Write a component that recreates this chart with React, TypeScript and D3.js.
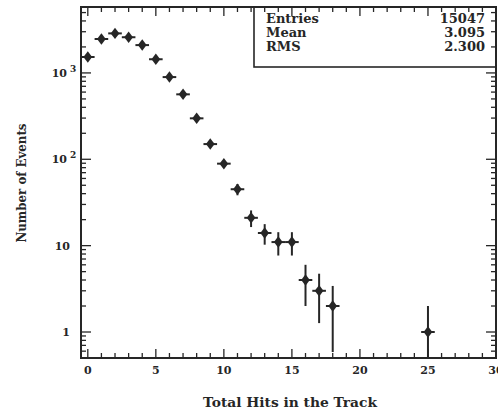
import React, { useEffect, useRef } from 'react';
import * as d3 from 'd3';

// bin centres (hits) and counts
const hits = [0, 1, 2, 3, 4, 5, 6, 7, 8, 9, 10, 11, 12, 13, 14, 15, 16, 17, 18, 25];
const counts = [1530, 2470, 2870, 2590, 2100, 1440, 895, 565, 298, 150, 89, 45, 21, 14, 11, 11, 4, 3, 2, 1];

const xTickLabels = [0, 5, 10, 15, 20, 25, 30];
const yTickLabels = [
  { v: 1, base: '1', exp: '' },
  { v: 10, base: '10', exp: '' },
  { v: 100, base: '10', exp: '2' },
  { v: 1000, base: '10', exp: '3' },
];

const statNames = ['Entries', 'Mean', 'RMS'];
const statValues = ['15047', '3.095', '2.300'];

const W = 498;
const H = 412;
const margin = { top: 7, right: 2, bottom: 54, left: 81 };
const ink = '#262626';
const font = '"DejaVu Serif", "Liberation Serif", serif';

export default function App() {
  const ref = useRef<SVGSVGElement>(null);

  useEffect(() => {
    if (!ref.current) return;
    const svg = d3.select(ref.current);
    svg.selectAll('*').remove();

    const x0 = margin.left, x1 = W - margin.right;
    const y0 = H - margin.bottom, y1 = margin.top;

    const x = d3.scaleLinear().domain([-0.5, 30]).range([x0, x1]);
    const y = d3.scaleLog().domain([0.5, 5800]).range([y0, y1]);

    svg.append('defs').append('clipPath').attr('id', 'plotclip')
      .append('rect').attr('x', x0).attr('y', y1).attr('width', x1 - x0).attr('height', y0 - y1);

    const g = svg.append('g');

    // x ticks (bottom and top, pointing inward)
    d3.range(0, 31).forEach(v => {
      const major = v % 5 === 0;
      const len = major ? 9 : 5;
      g.append('line').attr('x1', x(v)).attr('x2', x(v)).attr('y1', y0).attr('y2', y0 - len)
        .attr('stroke', ink).attr('stroke-width', 1.3);
      g.append('line').attr('x1', x(v)).attr('x2', x(v)).attr('y1', y1).attr('y2', y1 + len)
        .attr('stroke', ink).attr('stroke-width', 1.3);
    });

    // y ticks (log, left and right)
    const yTicks: { v: number; major: boolean }[] = [];
    for (let e = -1; e <= 3; e++) {
      for (let m = 1; m <= 9; m++) {
        const v = m * Math.pow(10, e);
        if (v >= 0.5 && v <= 5800) yTicks.push({ v, major: m === 1 });
      }
    }
    yTicks.forEach(t => {
      const len = t.major ? 10 : 5;
      g.append('line').attr('x1', x0).attr('x2', x0 + len).attr('y1', y(t.v)).attr('y2', y(t.v))
        .attr('stroke', ink).attr('stroke-width', 1.3);
      g.append('line').attr('x1', x1).attr('x2', x1 - len).attr('y1', y(t.v)).attr('y2', y(t.v))
        .attr('stroke', ink).attr('stroke-width', 1.3);
    });

    // frame
    g.append('rect').attr('x', x0).attr('y', y1).attr('width', x1 - x0).attr('height', y0 - y1)
      .attr('fill', 'none').attr('stroke', ink).attr('stroke-width', 2);

    // x tick labels
    g.selectAll('text.xl').data(xTickLabels).enter().append('text')
      .attr('x', d => x(d)).attr('y', y0 + 16)
      .attr('text-anchor', 'middle').attr('font-family', font).attr('font-weight', 'bold')
      .attr('font-size', 11).attr('fill', ink).text(d => d);

    // y tick labels
    yTickLabels.forEach(t => {
      g.append('text').attr('x', t.exp ? 67 : 70).attr('y', y(t.v) + 4)
        .attr('text-anchor', 'end').attr('font-family', font).attr('font-weight', 'bold')
        .attr('font-size', 11).attr('fill', ink).text(t.base);
      if (t.exp) {
        g.append('text').attr('x', 70).attr('y', y(t.v) - 1)
          .attr('font-family', font).attr('font-weight', 'bold')
          .attr('font-size', 9).attr('fill', ink).text(t.exp);
      }
    });

    // data points with error bars
    const pts = g.append('g').attr('clip-path', 'url(#plotclip)');
    hits.forEach((h, i) => {
      const n = counts[i];
      const err = Math.sqrt(n);
      const lo = Math.max(n - err, 0.3);
      const cx = x(h), cy = y(n);
      pts.append('line').attr('x1', cx).attr('x2', cx).attr('y1', y(n + err)).attr('y2', y(lo))
        .attr('stroke', ink).attr('stroke-width', 2);
      pts.append('line').attr('x1', x(h - 0.5)).attr('x2', x(h + 0.5)).attr('y1', cy).attr('y2', cy)
        .attr('stroke', ink).attr('stroke-width', 2);
      pts.append('path').attr('transform', `translate(${cx},${cy}) scale(1.25,0.95)`)
        .attr('d', d3.symbol().type(d3.symbolDiamond).size(42)())
        .attr('fill', ink);
    });

    // stats box
    const bx = 254;
    const by = y1;
    const bh = 60;
    g.append('rect').attr('x', bx).attr('y', by).attr('width', x1 - bx).attr('height', bh)
      .attr('fill', 'none').attr('stroke', ink).attr('stroke-width', 1.6);
    statNames.forEach((s, i) => {
      g.append('text').attr('x', bx + 12).attr('y', by + 16 + i * 14)
        .attr('font-family', font).attr('font-weight', 'bold').attr('font-size', 13)
        .attr('fill', ink).text(s);
      g.append('text').attr('x', x1 - 11).attr('y', by + 16 + i * 14)
        .attr('text-anchor', 'end').attr('font-family', font).attr('font-weight', 'bold')
        .attr('font-size', 13).attr('fill', ink).text(statValues[i]);
    });

    // axis titles
    g.append('text').attr('x', 290).attr('y', 407).attr('text-anchor', 'middle')
      .attr('font-family', font).attr('font-weight', 'bold').attr('font-size', 13)
      .attr('textLength', 174).attr('lengthAdjust', 'spacingAndGlyphs')
      .attr('fill', ink).text('Total Hits in the Track');
    g.append('text').attr('transform', `translate(26,${183}) rotate(-90)`)
      .attr('text-anchor', 'middle').attr('font-family', font).attr('font-weight', 'bold')
      .attr('font-size', 13).attr('textLength', 119).attr('lengthAdjust', 'spacingAndGlyphs')
      .attr('fill', ink).text('Number of Events');
  }, []);

  return (
    <svg ref={ref} width={W} height={H}
      style={{ position: 'absolute', left: 0, top: 0, background: '#fff' }} />
  );
}
